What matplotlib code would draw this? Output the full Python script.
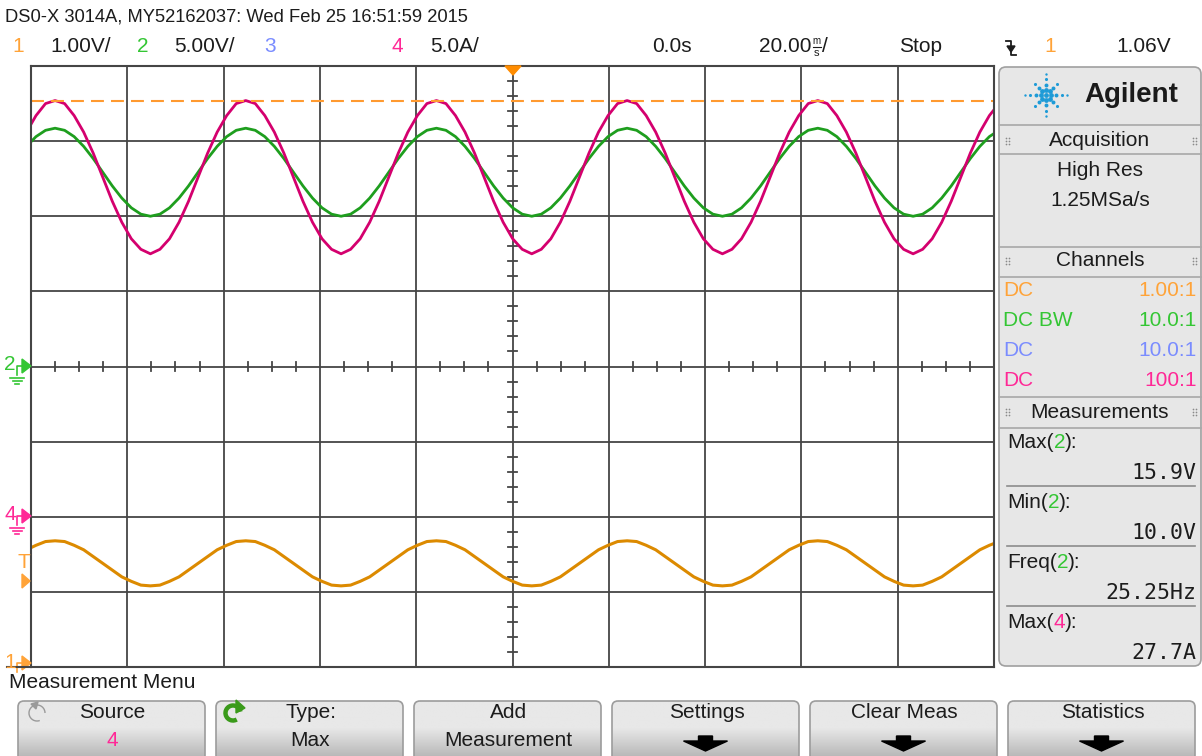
import numpy as np
import matplotlib.pyplot as plt
from matplotlib.patches import Polygon, FancyBboxPatch, Arc

plt.rcParams['font.family'] = ['Liberation Sans Narrow', 'Liberation Sans', 'DejaVu Sans']

W, H = 1202, 756

# ---- waveforms, one sample every 1.98 ms ----
t_start = -100.94   # ms
t_step = 1.98       # ms

ch1_volts = [
    1.51, 1.57, 1.62, 1.63, 1.62, 1.57, 1.51, 1.42, 1.33, 1.24, 1.15, 1.09, 1.04, 1.03, 1.04, 1.09, 1.15, 1.24, 1.33, 1.42,
    1.51, 1.57, 1.62, 1.63, 1.62, 1.57, 1.51, 1.42, 1.33, 1.24, 1.15, 1.09, 1.04, 1.03, 1.04, 1.09, 1.15, 1.24, 1.33, 1.42,
    1.51, 1.57, 1.62, 1.63, 1.62, 1.57, 1.51, 1.42, 1.33, 1.24, 1.15, 1.09, 1.04, 1.03, 1.04, 1.09, 1.15, 1.24, 1.33, 1.42,
    1.51, 1.57, 1.62, 1.63, 1.62, 1.57, 1.51, 1.42, 1.33, 1.24, 1.15, 1.09, 1.04, 1.03, 1.04, 1.09, 1.15, 1.24, 1.33, 1.42,
    1.51, 1.57, 1.62, 1.63, 1.62, 1.57, 1.51, 1.42, 1.33, 1.24, 1.15, 1.09, 1.04, 1.03, 1.04, 1.09, 1.15, 1.24, 1.33, 1.42,
    1.51, 1.57, 1.62]
ch2_volts = [
    14.65, 15.30, 15.72, 15.86, 15.72, 15.30, 14.65, 13.84, 12.93, 12.02, 11.21, 10.56, 10.14, 10.00, 10.14, 10.56, 11.21, 12.02, 12.93, 13.84,
    14.65, 15.30, 15.72, 15.86, 15.72, 15.30, 14.65, 13.84, 12.93, 12.02, 11.21, 10.56, 10.14, 10.00, 10.14, 10.56, 11.21, 12.02, 12.93, 13.84,
    14.65, 15.30, 15.72, 15.86, 15.72, 15.30, 14.65, 13.84, 12.93, 12.02, 11.21, 10.56, 10.14, 10.00, 10.14, 10.56, 11.21, 12.02, 12.93, 13.84,
    14.65, 15.30, 15.72, 15.86, 15.72, 15.30, 14.65, 13.84, 12.93, 12.02, 11.21, 10.56, 10.14, 10.00, 10.14, 10.56, 11.21, 12.02, 12.93, 13.84,
    14.65, 15.30, 15.72, 15.86, 15.72, 15.30, 14.65, 13.84, 12.93, 12.02, 11.21, 10.56, 10.14, 10.00, 10.14, 10.56, 11.21, 12.02, 12.93, 13.84,
    14.65, 15.30, 15.72]
ch4_amps = [
    25.6, 26.7, 27.5, 27.7, 27.5, 26.7, 25.6, 24.2, 22.6, 21.0, 19.6, 18.5, 17.8, 17.5, 17.8, 18.5, 19.6, 21.0, 22.6, 24.2,
    25.6, 26.7, 27.5, 27.7, 27.5, 26.7, 25.6, 24.2, 22.6, 21.0, 19.6, 18.5, 17.8, 17.5, 17.8, 18.5, 19.6, 21.0, 22.6, 24.2,
    25.6, 26.7, 27.5, 27.7, 27.5, 26.7, 25.6, 24.2, 22.6, 21.0, 19.6, 18.5, 17.8, 17.5, 17.8, 18.5, 19.6, 21.0, 22.6, 24.2,
    25.6, 26.7, 27.5, 27.7, 27.5, 26.7, 25.6, 24.2, 22.6, 21.0, 19.6, 18.5, 17.8, 17.5, 17.8, 18.5, 19.6, 21.0, 22.6, 24.2,
    25.6, 26.7, 27.5, 27.7, 27.5, 26.7, 25.6, 24.2, 22.6, 21.0, 19.6, 18.5, 17.8, 17.5, 17.8, 18.5, 19.6, 21.0, 22.6, 24.2,
    25.6, 26.7, 27.5]

# scope settings (per division) and ground positions (divisions from centre)
ch1_scale, ch2_scale, ch4_scale = 1.0, 5.0, 5.0
ch1_ground, ch2_ground, ch4_ground = -3.95, 0.0, -2.0
max4_marker = 27.7

chan_coupling = ['DC', 'DC BW', 'DC', 'DC']
chan_probe = ['1.00:1', '10.0:1', '10.0:1', '100:1']
meas_names = ['Max(', 'Min(', 'Freq(', 'Max(']
meas_src = ['2', '2', '2', '4']
meas_vals = ['15.9V', '10.0V', '25.25Hz', '27.7A']
btn_top = ['Source', 'Type:', 'Add', 'Settings', 'Clear Meas', 'Statistics']
btn_bottom = ['4', 'Max', 'Measurement', None, None, None]

OR_TR, OR_TX = '#dc8a00', '#ffa338'
GR_TR, GR_TX = '#1e9e1e', '#34c634'
BL_TX = '#7a8cff'
PK_TR, PK_TX = '#d4006e', '#ff2896'
GRID = '#454545'
TXT = '#1c1c1c'
FS = 15

t = t_start + t_step * np.arange(len(ch1_volts))

fig = plt.figure(figsize=(W / 100, H / 100), dpi=100)
fig.patch.set_facecolor('white')

# ---- scope graticule ----
ax = fig.add_axes([31 / W, 1 - 667 / H, 963 / W, 601 / H], zorder=2)
ax.set_xlim(-100, 100)
ax.set_ylim(-4, 4)
ax.set_xticks(np.arange(-100, 101, 20))
ax.set_yticks(np.arange(-4, 5, 1))
ax.grid(True, color=GRID, lw=1.3)
ax.tick_params(length=0, labelbottom=False, labelleft=False)
for s in ax.spines.values():
    s.set_color(GRID)
    s.set_linewidth(1.5)
for x in np.arange(-100, 101, 5):
    if x % 20:
        ax.plot([x, x], [-0.055, 0.055], color=GRID, lw=1.3)
for y in np.arange(-4, 4.01, 0.2):
    if abs(y - round(y)) > 0.01:
        ax.plot([-0.85, 0.85], [y, y], color=GRID, lw=1.3)

ax.plot(t, np.array(ch2_volts) / ch2_scale + ch2_ground, color=GR_TR, lw=2)
ax.plot(t, np.array(ch4_amps) / ch4_scale + ch4_ground, color=PK_TR, lw=2)
ax.plot(t, np.array(ch1_volts) / ch1_scale + ch1_ground, color=OR_TR, lw=2.2)
ax.axhline(max4_marker / ch4_scale + ch4_ground, color='#ff9a30', lw=1.5, dashes=(6.2, 3.4))

# ---- overlay in pixel coordinates ----
ov = fig.add_axes([0, 0, 1, 1], zorder=5)
ov.axis('off')
rend = fig.canvas.get_renderer()


def chain(x, y, parts, **kw):
    for s, c in parts:
        tx = ov.text(x, y, s, color=c, ha='left', va='center', **kw)
        x += tx.get_window_extent(renderer=rend).width
    return x


# header
ov.text(5, 17, 'DS0-X 3014A, MY52162037: Wed Feb 25 16:51:59 2015', fontsize=13.2, color=TXT, va='center')
ov.text(18, 47, '1', color=OR_TX, fontsize=FS, ha='center', va='center')
ov.text(50, 47, '1.00V/', color=TXT, fontsize=FS, va='center')
ov.text(143, 47, '2', color=GR_TX, fontsize=FS, ha='center', va='center')
ov.text(174, 47, '5.00V/', color=TXT, fontsize=FS, va='center')
ov.text(270, 47, '3', color=BL_TX, fontsize=FS, ha='center', va='center')
ov.text(397, 47, '4', color=PK_TX, fontsize=FS, ha='center', va='center')
ov.text(430, 47, '5.0A/', color=TXT, fontsize=FS, va='center')
ov.text(652, 47, '0.0s', color=TXT, fontsize=FS, va='center')
xe = chain(759, 47, [('20.00', TXT)], fontsize=FS)
ov.text(xe + 5, 41, 'm', color=TXT, fontsize=7, ha='center', va='center')
ov.text(xe + 5, 53, 's', color=TXT, fontsize=8, ha='center', va='center')
ov.plot([xe + 1, xe + 9], [47, 47], color=TXT, lw=0.8)
ov.text(xe + 10, 47, '/', color=TXT, fontsize=FS, va='center')
ov.text(899, 47, 'Stop', color=TXT, fontsize=FS, va='center')
ov.plot([1006, 1011, 1011, 1016], [41, 41, 55, 55], color=TXT, lw=1.3)
ov.add_patch(Polygon([[1007, 46], [1015, 46], [1011, 52]], color=TXT))
ov.text(1050, 47, '1', color=OR_TX, fontsize=FS, ha='center', va='center')
ov.text(1116, 47, '1.06V', color=TXT, fontsize=FS, va='center')

# trigger position marker and left channel markers
ov.add_patch(Polygon([[505, 66], [521, 66], [513, 75]], color='#ff8c00'))


def gnd_marker(y, label, color, ground=True):
    ov.text(10, y - 1, label, color=color, fontsize=15, ha='center', va='center')
    ov.add_patch(Polygon([[22, y - 7], [31, y], [22, y + 7]], color=color))
    ov.plot([17, 17, 23], [y + 9, y, y], color=color, lw=1.2)
    if ground:
        for i, w in enumerate([7, 4.5, 2]):
            ov.plot([17 - w, 17 + w], [y + 12 + 3 * i] * 2, color=color, lw=1.2)


gnd_marker(366, '2', GR_TX)
gnd_marker(516, '4', PK_TX)
gnd_marker(663, '1', OR_TX, ground=False)
ov.text(24, 562, 'T', color=OR_TX, fontsize=15, ha='center', va='center')
ov.add_patch(Polygon([[22, 574], [30, 581], [22, 588]], color=OR_TX))
ov.plot([7, 31], [667, 667], color=GRID, lw=1.5)

# ---- right info panel ----
ov.add_patch(FancyBboxPatch((999, 67), 202, 599, boxstyle='round,pad=0,rounding_size=7',
                            fc='#e7e7e7', ec='#a0a0a0', lw=1.2))
for y in [125, 154, 247, 277, 397, 428]:
    ov.plot([999, 1201], [y, y], color='#a8a8a8', lw=1.2)
for y in [486, 546, 606]:
    ov.plot([1007, 1195], [y, y], color='#8c8c8c', lw=1.2)
for y in [141, 261, 412]:
    for gx in [1006, 1193]:
        ov.scatter([gx, gx + 3] * 3, [y - 3] * 2 + [y] * 2 + [y + 3] * 2, s=1.5, color='#8a8a8a', lw=0)

cx, cy = 1046, 95
for ang in np.arange(0, 360, 45):
    a = np.deg2rad(ang)
    rs = [5, 10, 16, 21] if ang % 90 == 0 else [5, 10, 15]
    for r, sz in zip(rs, [12, 8, 5, 3]):
        ov.scatter(cx + r * np.cos(a), cy + r * np.sin(a), s=sz, color='#1e9bd7', lw=0)
ov.scatter(cx, cy, s=12, color='#1e9bd7', lw=0)
ov.text(1131, 95, 'Agilent', fontsize=20, fontweight='bold', family='Liberation Sans',
        color='#1a1a1a', ha='center', va='center')

ov.text(1100, 140, 'Acquisition', fontsize=FS, color=TXT, ha='center', va='center')
ov.text(1100, 170, 'High Res', fontsize=FS, color=TXT, ha='center', va='center')
ov.text(1100, 200, '1.25MSa/s', fontsize=FS, color=TXT, ha='center', va='center')
ov.text(1100, 261, 'Channels', fontsize=FS, color=TXT, ha='center', va='center')
chan_colors = [OR_TX, GR_TX, BL_TX, PK_TX]
for i in range(4):
    y = 291 + 30 * i
    ov.text(1003, y, chan_coupling[i], fontsize=FS, color=chan_colors[i], va='center')
    ov.text(1197, y, chan_probe[i], fontsize=FS, color=chan_colors[i], ha='right', va='center')
ov.text(1100, 412, 'Measurements', fontsize=FS, color=TXT, ha='center', va='center')
for i in range(4):
    y = 443 + 60 * i
    src_col = PK_TX if meas_src[i] == '4' else GR_TX
    chain(1007, y, [(meas_names[i], TXT), (meas_src[i], src_col), ('):', TXT)], fontsize=FS)
    ov.text(1196, y + 30, meas_vals[i], fontsize=15.5, family='DejaVu Sans Mono', color=TXT,
            ha='right', va='center')

# ---- bottom softkey menu ----
ov.text(9, 683, 'Measurement Menu', fontsize=FS, color=TXT, va='center')
grad = np.concatenate([np.full(22, 0.91), np.linspace(0.91, 0.68, 30)])[:, None]
btn_x = [18, 216, 414, 612, 810, 1008]
for i, x0 in enumerate(btn_x):
    x1 = x0 + 187
    box = FancyBboxPatch((x0, 701), x1 - x0, 62, boxstyle='round,pad=0,rounding_size=6',
                         fc='none', ec='#9c9c9c', lw=1.2, zorder=3)
    ov.add_patch(box)
    img = ov.imshow(grad, cmap='gray', vmin=0, vmax=1, extent=(x0, x1, 763, 701),
                    aspect='auto', interpolation='bilinear', zorder=1)
    img.set_clip_path(box)
    xc = (x0 + x1) / 2
    ov.text(xc + 1, 713, btn_top[i], fontsize=FS, color=TXT, ha='center', va='center', zorder=4)
    if btn_bottom[i] is not None:
        col = PK_TX if btn_bottom[i] == '4' else TXT
        ov.text(xc + 1, 741, btn_bottom[i], fontsize=FS, color=col, ha='center', va='center', zorder=4)
    else:
        ov.add_patch(Polygon([[xc - 7, 736], [xc + 7, 736], [xc + 7, 741], [xc + 22, 741], [xc, 751],
                              [xc - 22, 741], [xc - 7, 741]], color='black', zorder=4))

# knob icons on the first two keys
ov.add_patch(Arc((37, 713), 16, 16, theta1=70, theta2=360, color='#9a9a9a', lw=1, zorder=4))
ov.add_patch(Polygon([[31, 704], [38, 702], [36, 709]], color='#9a9a9a', zorder=4))
ov.add_patch(Arc((233, 713), 15, 15, theta1=60, theta2=350, color='#3a9a1a', lw=3.2, zorder=4))
ov.add_patch(Polygon([[236, 700], [245, 708], [236, 713]], color='#3a9a1a', zorder=4))

ov.set_xlim(0, W)
ov.set_ylim(H, 0)

fig.savefig('out.png', dpi=100)
